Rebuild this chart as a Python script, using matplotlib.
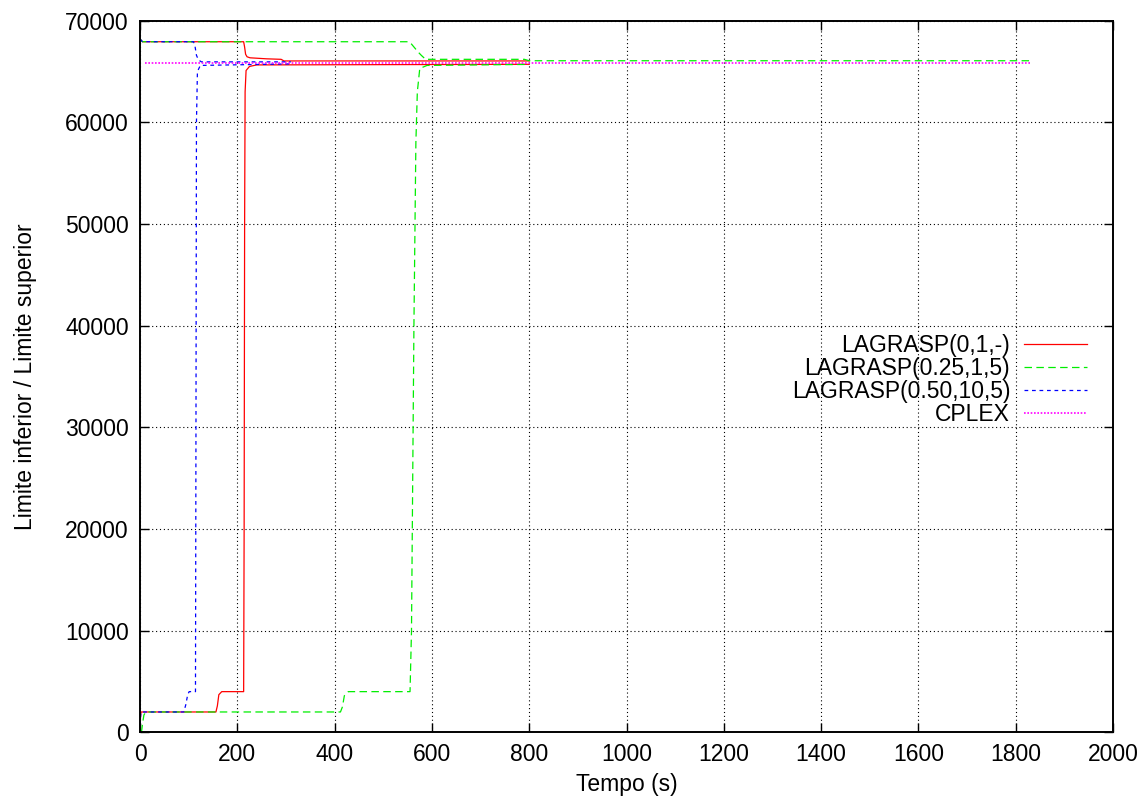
import matplotlib.pyplot as plt

plt.rcParams['font.family'] = ['Liberation Sans', 'DejaVu Sans']

# LAGRASP(0,1,-): upper and lower bounds over time
redUpperT = [0, 5, 213, 215, 217, 220, 226, 260, 290, 296, 800]
redUpperV = [68200, 67930, 67930, 67400, 66700, 66450, 66350, 66250, 66200, 66040, 66040]
redLowerT = [0, 1, 2, 156, 159, 162, 168, 213, 214, 215, 216, 218, 225, 240, 800]
redLowerV = [0, 1500, 2000, 2000, 2600, 3700, 4000, 4000, 20000, 50000, 63000, 65100, 65500, 65650, 65710]

# LAGRASP(0.25,1,5)
greenUpperT = [0, 5, 553, 558, 565, 572, 578, 587, 790, 800, 1830]
greenUpperV = [68200, 67930, 67930, 67700, 67300, 66900, 66600, 66200, 66200, 66060, 66060]
greenLowerT = [3, 5, 8, 12, 412, 416, 420, 428, 555, 558, 563, 567, 570, 575, 590, 800]
greenLowerV = [0, 800, 1700, 2000, 2000, 2500, 3600, 4000, 4000, 10000, 40000, 58000, 63000, 65300, 65600, 65700]

# LAGRASP(0.50,10,5)
blueUpperT = [0, 5, 110, 113, 116, 120, 126, 310]
blueUpperV = [68200, 67930, 67930, 67500, 66600, 66150, 65950, 65950]
blueLowerT = [0, 1, 2, 90, 94, 98, 101, 114, 115, 116, 118, 124, 310]
blueLowerV = [0, 1500, 2000, 2000, 2700, 3700, 4000, 4000, 30000, 60000, 65000, 65600, 65750]

# CPLEX optimum
cplexT = [10, 1830]
cplexV = [65880, 65880]

xTicks = list(range(0, 2001, 200))
yTicks = list(range(0, 70001, 10000))

fs = 16.5

fig = plt.figure(figsize=(11.43, 8.02), dpi=100)
ax = fig.add_axes([0.1225, 0.0869, 0.8513, 0.8873])

# each method: same style for both bounds, label only once
ax.plot(redUpperT, redUpperV, color='#ff0000', lw=0.9, label='LAGRASP(0,1,-)')
ax.plot(redLowerT, redLowerV, color='#ff0000', lw=0.9)
ax.plot(greenUpperT, greenUpperV, color='#00ee00', lw=0.9, dashes=(6, 3.5), label='LAGRASP(0.25,1,5)')
ax.plot(greenLowerT, greenLowerV, color='#00ee00', lw=0.9, dashes=(6, 3.5))
ax.plot(blueUpperT, blueUpperV, color='#0000ff', lw=0.9, dashes=(3, 3), label='LAGRASP(0.50,10,5)')
ax.plot(blueLowerT, blueLowerV, color='#0000ff', lw=0.9, dashes=(3, 3))
ax.plot(cplexT, cplexV, color='#ff00ff', lw=1.2, dashes=(1, 1), label='CPLEX')

ax.set_xlim(0, 2000)
ax.set_ylim(0, 70000)
ax.set_xticks(xTicks)
ax.set_yticks(yTicks)
ax.tick_params(direction='in', length=6.5, width=1, top=True, right=True, labelsize=fs, pad=8)
ax.grid(True, color='black', lw=0.8, dashes=(1, 2.5))
for s in ax.spines.values():
    s.set_linewidth(1.4)

ax.set_xlabel('Tempo (s)', fontsize=fs, labelpad=5)
ax.set_ylabel('Limite inferior / Limite superior', fontsize=fs, labelpad=20)

ax.legend(loc='upper right', bbox_to_anchor=(1087 / 1143, 1 - 334 / 802), bbox_transform=fig.transFigure,
          frameon=False, markerfirst=False, fontsize=fs, handlelength=2.75, handletextpad=0.6,
          labelspacing=0.0, borderpad=0, borderaxespad=0)

fig.savefig('out.png', dpi=100)
